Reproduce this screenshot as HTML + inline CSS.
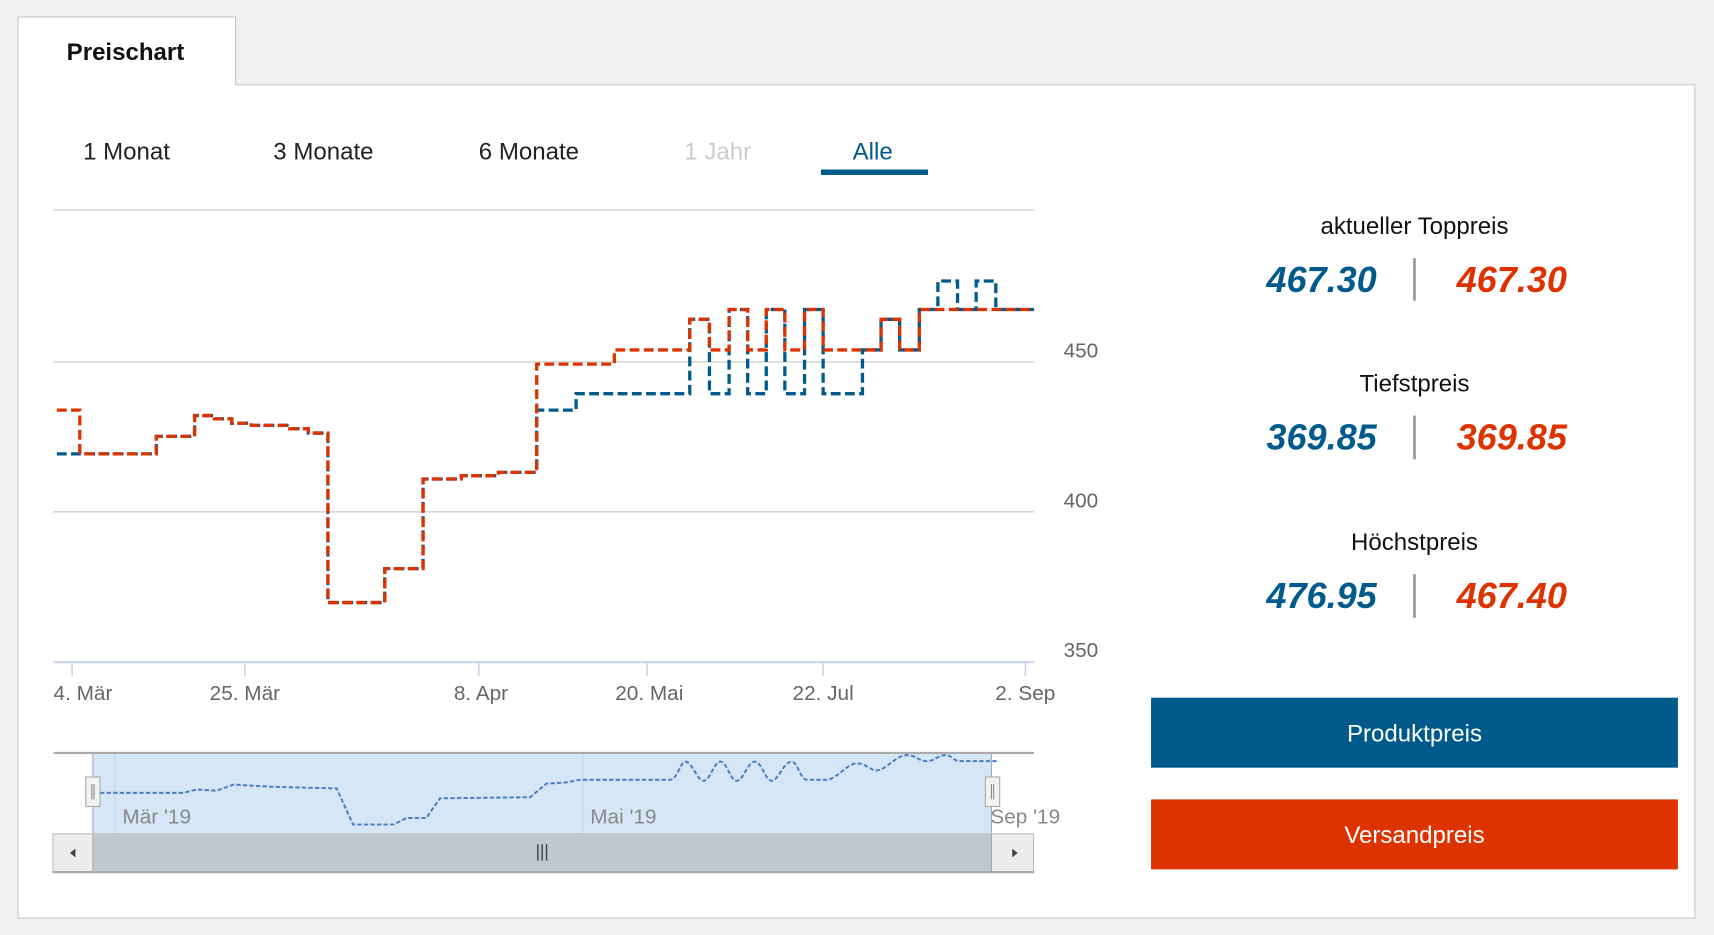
<!DOCTYPE html>
<html><head><meta charset="utf-8"><style>
html,body{margin:0;padding:0;background:#f0f0f0;overflow:hidden}
svg{display:block}
text{font-family:"Liberation Sans",sans-serif}
</style></head><body>
<svg width="1714" height="935" viewBox="0 0 1568 855" preserveAspectRatio="none" xmlns="http://www.w3.org/2000/svg">
<rect width="1568" height="855" fill="#f0f0f0"/>
<rect x="16.5" y="77.5" width="1534" height="762" fill="#fff" stroke="#c8c8c8"/>
<path d="M16.5 78 V15.5 H215.5 V78" fill="#fff" stroke="#c8c8c8"/>
<rect x="17" y="76" width="198" height="3" fill="#fff"/>
<text x="61" y="55" font-size="22" font-weight="bold" fill="#111">Preischart</text>
<g font-size="22" fill="#222">
<text x="76" y="146">1 Monat</text>
<text x="250" y="146">3 Monate</text>
<text x="438" y="146">6 Monate</text>
<text x="626" y="146" fill="#ccc">1 Jahr</text>
<text x="780" y="146" fill="#005a8c">Alle</text>
</g>
<rect x="751" y="155" width="98" height="5" fill="#005a8c"/>
<g stroke="#d8d8d8" stroke-width="1.5">
<line x1="49" y1="192" x2="946" y2="192"/>
<line x1="49" y1="331" x2="946" y2="331"/>
<line x1="49" y1="468" x2="946" y2="468"/>
</g>
<line x1="49" y1="605.5" x2="946" y2="605.5" stroke="#ccd6eb" stroke-width="2"/>
<g stroke="#ccd6eb" stroke-width="1.5">
<line x1="66" y1="605" x2="66" y2="618"/><line x1="224" y1="605" x2="224" y2="618"/>
<line x1="438" y1="605" x2="438" y2="618"/><line x1="592" y1="605" x2="592" y2="618"/>
<line x1="753" y1="605" x2="753" y2="618"/><line x1="938" y1="605" x2="938" y2="618"/>
</g>
<g font-size="19" fill="#666">
<text x="973" y="327">450</text><text x="973" y="464">400</text><text x="973" y="601">350</text>
<text x="49" y="640">4. Mär</text>
<text x="224" y="640" text-anchor="middle">25. Mär</text>
<text x="440" y="640" text-anchor="middle">8. Apr</text>
<text x="594" y="640" text-anchor="middle">20. Mai</text>
<text x="753" y="640" text-anchor="middle">22. Jul</text>
<text x="938" y="640" text-anchor="middle">2. Sep</text>
</g>
<path fill="none" stroke="#005a8c" stroke-width="3" stroke-dasharray="9,4" d="M52 415 H143 V399 H178 V380 H196 V383 H212 V387 H230 V389 H265 V392 H282 V396 H300 V551 H352 V520 H387 V438 H422 V435 H456 V432 H491 V375 H527 V360 H631 V292 H649 V360 H667 V283 H684 V360 H701 V283 H718 V360 H736 V283 H753 V360 H789 V320 H806 V292 H823 V320 H841 V283 H858 V257 H876 V283 H893 V257 H911 V283 H946"/>
<path fill="none" stroke="#dd3300" stroke-width="3" stroke-dasharray="9,4" d="M52 375 H73 V415 H143 V399 H178 V380 H196 V383 H212 V387 H230 V389 H265 V392 H282 V396 H300 V551 H352 V520 H387 V438 H422 V435 H456 V432 H491 V333 H562 V320 H631 V292 H649 V320 H667 V283 H684 V320 H701 V283 H718 V320 H736 V283 H753 V320 H806 V292 H823 V320 H841 V283 H946"/>
<!-- navigator -->
<rect x="85" y="689" width="822" height="73" fill="#d6e6f6"/>
<line x1="105" y1="689" x2="105" y2="762" stroke="#c4d6ea"/>
<line x1="533" y1="689" x2="533" y2="762" stroke="#c4d6ea"/>
<line x1="49" y1="688.5" x2="946" y2="688.5" stroke="#aaa" stroke-width="2"/>
<line x1="85" y1="689" x2="85" y2="762" stroke="#aaa"/>
<line x1="907" y1="689" x2="907" y2="762" stroke="#aaa"/>
<path fill="none" stroke="#4a7fc0" stroke-width="1.8" stroke-dasharray="4,2" d="M91.5 725 L167.7 725 L179.9 722 L198 723 L213.5 717.5 L250 719.5 L308 721 L323 754 L360 754 L372 748 L390 748 L402.5 730 L485 729 L500 716.5 L518 715.5 L530.6 713 L613 713 C620 713 622 696.5 627 696.5 C633 696.5 638 714 643.5 714 C650 714 653 696.5 659 696.5 C665 696.5 668 714 674 714 C680 714 684 696.5 690.5 696.5 C697 696.5 700 714 706 714 C712 714 717 696.5 724 696.5 C730 696.5 732 713 738 713 L756 713 C765 713 775 698 784 698 C792 698 796 704.5 802 704.5 C810 704.5 820 690.5 829.5 690.5 C838 690.5 840 696 848 696 C855 696 858 690.5 865 690.5 C871 690.5 872 696 878 696 L911.8 696"/>
<g font-size="19" fill="#888">
<text x="112" y="753">Mär '19</text><text x="540" y="753">Mai '19</text><text x="906" y="753">Sep '19</text>
</g>
<rect x="78.5" y="710.5" width="13" height="27" fill="#f2f2f2" stroke="#aaa"/>
<line x1="84" y1="717" x2="84" y2="731" stroke="#888"/><line x1="86" y1="717" x2="86" y2="731" stroke="#888"/>
<rect x="901.5" y="710.5" width="13" height="27" fill="#f2f2f2" stroke="#aaa"/>
<line x1="907" y1="717" x2="907" y2="731" stroke="#888"/><line x1="909" y1="717" x2="909" y2="731" stroke="#888"/>
<rect x="48.5" y="762.5" width="897" height="35" fill="#ececec" stroke="#bbb"/>
<rect x="85" y="763" width="822" height="34" fill="#bfc7d1"/>
<line x1="85" y1="762" x2="85" y2="798" stroke="#aaa"/><line x1="907" y1="762" x2="907" y2="798" stroke="#aaa"/>
<line x1="48" y1="797.5" x2="946" y2="797.5" stroke="#aaa" stroke-width="2"/>
<path d="M69 776 L64 780 L69 784Z" fill="#444"/>
<path d="M926 776 L931 780 L926 784Z" fill="#444"/>
<g stroke="#444" stroke-width="1.3"><line x1="492" y1="772" x2="492" y2="787"/><line x1="496" y1="772" x2="496" y2="787"/><line x1="500" y1="772" x2="500" y2="787"/></g>
<!-- right -->
<g font-size="22" fill="#111" text-anchor="middle">
<text x="1294" y="214">aktueller Toppreis</text>
<text x="1294" y="358">Tiefstpreis</text>
<text x="1294" y="503">Höchstpreis</text>
</g>
<g font-size="33" font-weight="bold" font-style="italic" text-anchor="middle">
<text x="1209" y="267" fill="#005a8c">467.30</text><text x="1383" y="267" fill="#dd3300">467.30</text>
<text x="1209" y="411" fill="#005a8c">369.85</text><text x="1383" y="411" fill="#dd3300">369.85</text>
<text x="1209" y="556" fill="#005a8c">476.95</text><text x="1383" y="556" fill="#dd3300">467.40</text>
</g>
<g stroke="#999" stroke-width="2.5">
<line x1="1294" y1="236" x2="1294" y2="275"/>
<line x1="1294" y1="380" x2="1294" y2="420"/>
<line x1="1294" y1="525" x2="1294" y2="565"/>
</g>
<rect x="1053" y="638" width="482" height="64" fill="#005a8c"/>
<rect x="1053" y="731" width="482" height="64" fill="#dd3300"/>
<g font-size="22" fill="#fff" text-anchor="middle">
<text x="1294" y="678">Produktpreis</text>
<text x="1294" y="771">Versandpreis</text>
</g>
</svg>
</body></html>
